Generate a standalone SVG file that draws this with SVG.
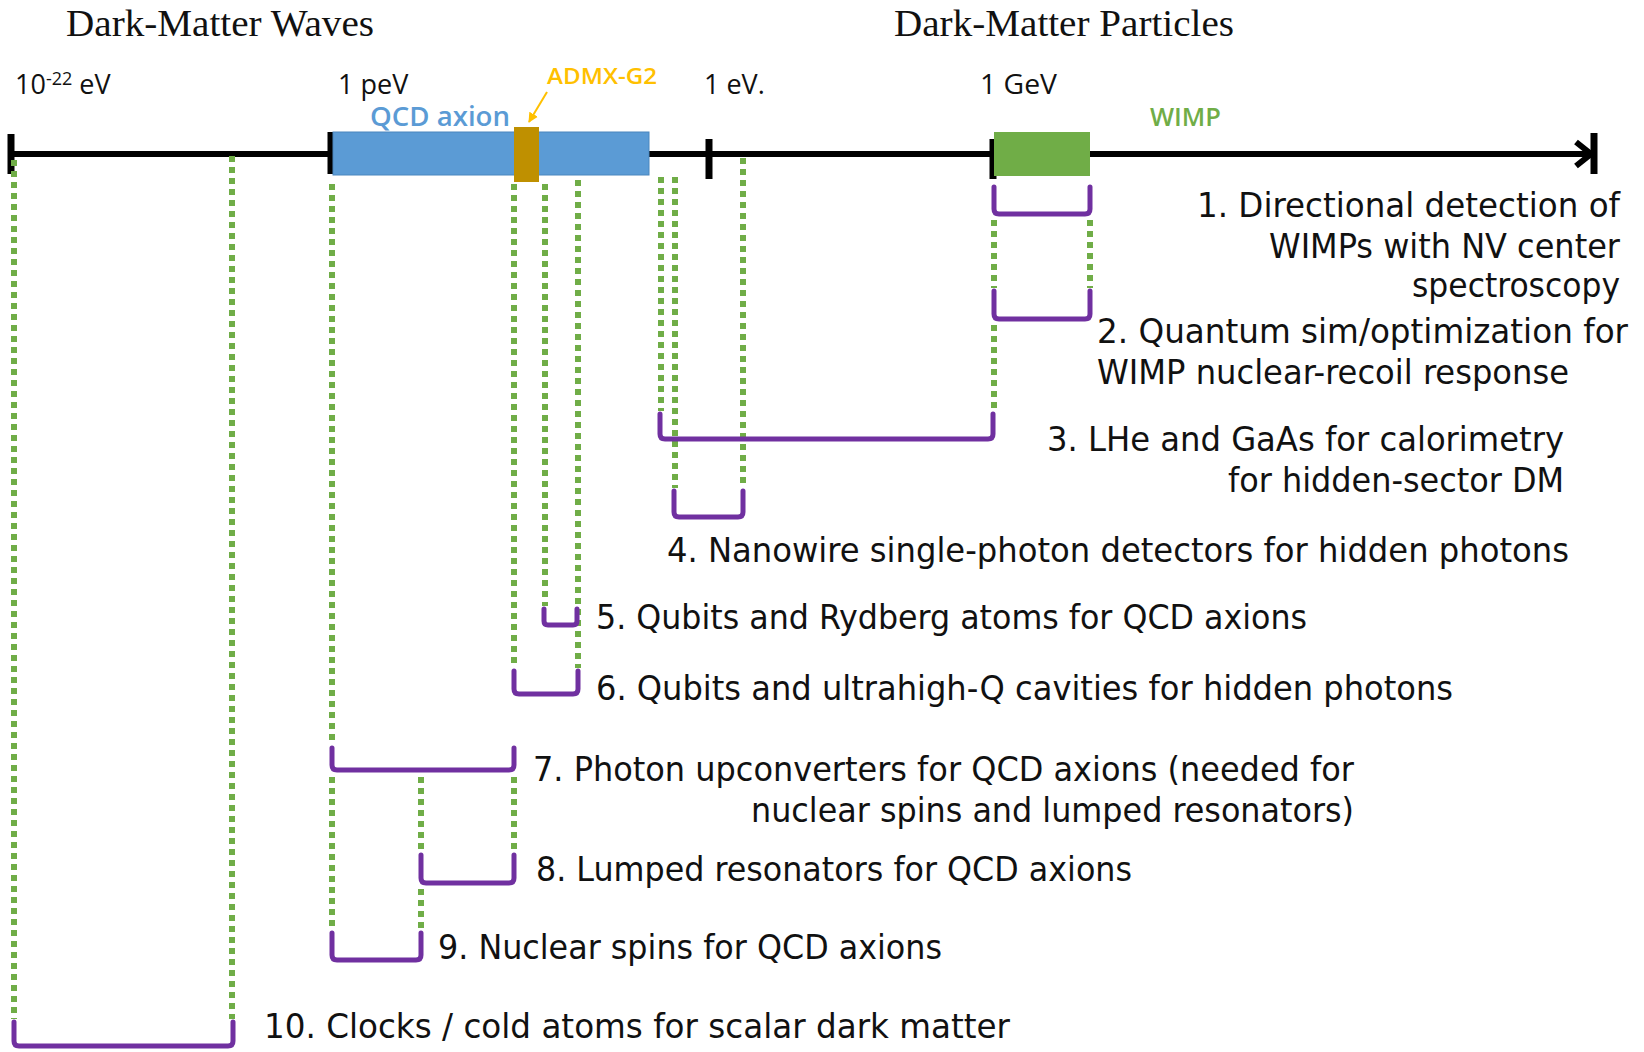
<svg xmlns="http://www.w3.org/2000/svg" width="1644" height="1052" viewBox="0 0 1644 1052">
<style>
.bg{fill:#ffffff}
.axis{stroke:#000;stroke-width:6;fill:none}
.tick{stroke:#000;stroke-width:7}
.br{fill:none;stroke:#7030A0;stroke-width:5;stroke-linecap:round;stroke-linejoin:round}
.dot{stroke:#70AD47;stroke-width:6;stroke-dasharray:6 5;fill:none}
.hd{font-family:'Liberation Serif','Times New Roman',serif;font-size:38px;fill:#111}
.sc{font-family:'Open Sans','Noto Sans',sans-serif;font-size:27px;fill:#111}
.lb{font-family:'DejaVu Sans Condensed','DejaVu Sans',sans-serif;font-size:34px;fill:#111}
.bd{font-family:'Open Sans','Noto Sans',sans-serif;font-weight:600}
</style>
<defs>
<marker id="ah" viewBox="0 0 10 10" refX="9" refY="5" markerWidth="5" markerHeight="5" orient="auto"><path d="M0,0 L10,5 L0,10 z" fill="#FFC000"/></marker>
</defs>
<rect class="bg" x="0" y="0" width="1644" height="1052"/>

<g id="headings">
<text class="hd" x="66" y="36" textLength="308" lengthAdjust="spacingAndGlyphs">Dark-Matter Waves</text>
<text class="hd" x="894" y="36" textLength="340" lengthAdjust="spacingAndGlyphs">Dark-Matter Particles</text>
</g>

<g id="axis">
<line class="axis" x1="8" y1="154" x2="1590" y2="154"/>
<polyline class="axis" points="1576,142 1591,154 1576,166" stroke-width="5"/>
<line class="tick" x1="1594" y1="133" x2="1594" y2="174"/>
<line class="tick" x1="11" y1="134" x2="11" y2="174"/>
<line class="tick" x1="331" y1="132" x2="331" y2="174"/>
<line class="tick" x1="709" y1="139" x2="709" y2="179"/>
<line class="tick" x1="993" y1="139" x2="993" y2="179"/>
<text class="sc" x="15" y="94">10<tspan font-size="18" dy="-9">-22</tspan><tspan dy="9"> eV</tspan></text>
<text class="sc" x="338" y="94">1 peV</text>
<text class="sc" x="704" y="94">1 eV.</text>
<text class="sc" x="980" y="94" textLength="77" lengthAdjust="spacingAndGlyphs">1 GeV</text>
</g>

<g id="qcd-axion">
<rect x="333" y="132" width="316" height="43" fill="#5B9BD5" stroke="#4A86BE" stroke-width="1"/>
<text class="bd" x="370" y="126" font-size="27" fill="#5B9BD5" textLength="140" lengthAdjust="spacingAndGlyphs">QCD axion</text>
</g>

<g id="admx-g2">
<rect x="514" y="127" width="25" height="55" fill="#BF9000"/>
<text class="bd" x="547" y="84" font-size="22" fill="#FFC000" textLength="110" lengthAdjust="spacingAndGlyphs">ADMX-G2</text>
<line x1="547" y1="92" x2="529" y2="122" stroke="#FFC000" stroke-width="2" marker-end="url(#ah)"/>
</g>

<g id="wimp">
<rect x="994" y="132" width="96" height="44" fill="#70AD47"/>
<text class="bd" x="1150" y="126" font-size="25" fill="#70AD47" textLength="71" lengthAdjust="spacingAndGlyphs">WIMP</text>
</g>

<g id="connectors">
<line class="dot" x1="14" y1="160" x2="14" y2="1019"/>
<line class="dot" x1="232" y1="156" x2="232" y2="1019"/>
<line class="dot" x1="332" y1="184" x2="332" y2="745"/>
<line class="dot" x1="332" y1="777" x2="332" y2="930"/>
<line class="dot" x1="421" y1="777" x2="421" y2="852"/>
<line class="dot" x1="421" y1="889" x2="421" y2="930"/>
<line class="dot" x1="514" y1="184" x2="514" y2="668"/>
<line class="dot" x1="514" y1="777" x2="514" y2="852"/>
<line class="dot" x1="545" y1="184" x2="545" y2="606"/>
<line class="dot" x1="578" y1="180" x2="578" y2="668"/>
<line class="dot" x1="661" y1="177" x2="661" y2="411"/>
<line class="dot" x1="675" y1="177" x2="675" y2="488"/>
<line class="dot" x1="743" y1="158" x2="743" y2="488"/>
<line class="dot" x1="994" y1="220" x2="994" y2="288"/>
<line class="dot" x1="994" y1="325" x2="994" y2="411"/>
<line class="dot" x1="1090" y1="220" x2="1090" y2="288"/>
</g>

<g id="item1">
<path class="br" d="M994,187 V209 Q994,214 999,214 H1085 Q1090,214 1090,209 V187"/>
<text class="lb" x="1620" y="217" text-anchor="end" textLength="423" lengthAdjust="spacingAndGlyphs">1. Directional detection of</text>
<text class="lb" x="1620" y="258" text-anchor="end" textLength="351" lengthAdjust="spacingAndGlyphs">WIMPs with NV center</text>
<text class="lb" x="1620" y="297" text-anchor="end" textLength="208" lengthAdjust="spacingAndGlyphs">spectroscopy</text>
</g>

<g id="item2">
<path class="br" d="M994,291 V314 Q994,319 999,319 H1085 Q1090,319 1090,314 V291"/>
<text class="lb" x="1097" y="343" textLength="531" lengthAdjust="spacingAndGlyphs">2. Quantum sim/optimization for</text>
<text class="lb" x="1097" y="384" textLength="472" lengthAdjust="spacingAndGlyphs">WIMP nuclear-recoil response</text>
</g>

<g id="item3">
<path class="br" d="M660,414 V434 Q660,439 665,439 H988 Q993,439 993,434 V414"/>
<text class="lb" x="1047" y="451" textLength="517" lengthAdjust="spacingAndGlyphs">3. LHe and GaAs for calorimetry</text>
<text class="lb" x="1564" y="492" text-anchor="end" textLength="336" lengthAdjust="spacingAndGlyphs">for hidden-sector DM</text>
</g>

<g id="item4">
<path class="br" d="M674,491 V512 Q674,517 679,517 H738 Q743,517 743,512 V491"/>
<text class="lb" x="667" y="562" textLength="902" lengthAdjust="spacingAndGlyphs">4. Nanowire single-photon detectors for hidden photons</text>
</g>

<g id="item5">
<path class="br" d="M544,609 V621 Q544,625 548,625 H573 Q577,625 577,621 V609"/>
<text class="lb" x="596" y="629" textLength="711" lengthAdjust="spacingAndGlyphs">5. Qubits and Rydberg atoms for QCD axions</text>
</g>

<g id="item6">
<path class="br" d="M514,671 V689 Q514,694 519,694 H573 Q578,694 578,689 V671"/>
<text class="lb" x="596" y="700" textLength="857" lengthAdjust="spacingAndGlyphs">6. Qubits and ultrahigh-Q cavities for hidden photons</text>
</g>

<g id="item7">
<path class="br" d="M332,748 V765 Q332,770 337,770 H509 Q514,770 514,765 V748"/>
<text class="lb" x="533" y="781" textLength="821" lengthAdjust="spacingAndGlyphs">7. Photon upconverters for QCD axions (needed for</text>
<text class="lb" x="1354" y="822" text-anchor="end" textLength="603" lengthAdjust="spacingAndGlyphs">nuclear spins and lumped resonators)</text>
</g>

<g id="item8">
<path class="br" d="M421,855 V878 Q421,883 426,883 H509 Q514,883 514,878 V855"/>
<text class="lb" x="536" y="881" textLength="596" lengthAdjust="spacingAndGlyphs">8. Lumped resonators for QCD axions</text>
</g>

<g id="item9">
<path class="br" d="M332,933 V955 Q332,960 337,960 H416 Q421,960 421,955 V933"/>
<text class="lb" x="438" y="959" textLength="504" lengthAdjust="spacingAndGlyphs">9. Nuclear spins for QCD axions</text>
</g>

<g id="item10">
<path class="br" d="M14,1022 V1041 Q14,1046 19,1046 H228 Q233,1046 233,1041 V1022"/>
<text class="lb" x="264" y="1038" textLength="746" lengthAdjust="spacingAndGlyphs">10. Clocks / cold atoms for scalar dark matter</text>
</g>
</svg>
